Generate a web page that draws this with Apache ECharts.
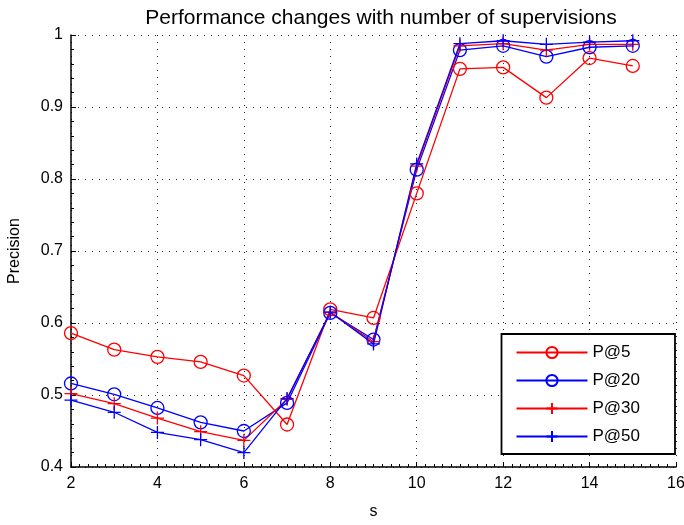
<!DOCTYPE html>
<html>
<head>
<meta charset="utf-8">
<script src="https://cdn.jsdelivr.net/npm/echarts@6/dist/echarts.min.js"></script>
<style>
  html, body { margin: 0; padding: 0; background: #fff; }
  #chart { width: 684px; height: 525px; }
</style>
</head>
<body>
<div id="chart"></div>
<script>
// number of supervisions
const sValues = [2, 3, 4, 5, 6, 7, 8, 9, 10, 11, 12, 13, 14, 15];

// precision at different cut-offs
const p5  = [0.586, 0.563, 0.553, 0.546, 0.527, 0.459, 0.619, 0.607, 0.780, 0.953, 0.955, 0.913, 0.968, 0.957];
const p20 = [0.516, 0.501, 0.482, 0.462, 0.450, 0.489, 0.614, 0.577, 0.813, 0.979, 0.985, 0.970, 0.983, 0.985];
const p30 = [0.502, 0.488, 0.468, 0.449, 0.437, 0.494, 0.615, 0.574, 0.818, 0.985, 0.988, 0.979, 0.987, 0.987];
const p50 = [0.493, 0.476, 0.448, 0.438, 0.420, 0.495, 0.615, 0.571, 0.821, 0.988, 0.992, 0.987, 0.990, 0.992];

const seriesNames = ['P@5', 'P@20', 'P@30', 'P@50'];
const xTicks = [2, 4, 6, 8, 10, 12, 14, 16];
const yTicks = [0.4, 0.5, 0.6, 0.7, 0.8, 0.9, 1];

const RED = '#ff0000';
const BLUE = '#0000ff';
const PLUS = 'path://M0,-10L0,10M-10,0L10,0';
const FONT = '"Liberation Sans", Arial, sans-serif';

function pairs(vals) {
  return vals.map((v, i) => [sValues[i], v]);
}

function makeSeries(name, vals, color, symbol) {
  return {
    name: name,
    type: 'line',
    data: pairs(vals),
    symbol: symbol,
    symbolSize: 13,
    showAllSymbol: true,
    animation: false,
    lineStyle: { color: color, width: 1.3 },
    itemStyle: { color: 'none', borderColor: color, borderWidth: 1.3 },
    emphasis: { disabled: true }
  };
}

const axisCommon = {
  axisLine: { show: true, onZero: false, lineStyle: { color: '#000', width: 1.5 } },
  axisTick: { show: true, inside: true, length: 5, lineStyle: { color: '#000' } },
  splitLine: { show: true, lineStyle: { color: '#222', type: [1, 6], width: 1 } },
  nameTextStyle: { color: '#000', fontSize: 16, fontFamily: FONT }
};

const chart = echarts.init(document.getElementById('chart'), null, { renderer: 'canvas' });
chart.setOption({
  backgroundColor: '#fff',
  animation: false,
  title: {
    text: 'Performance changes with number of supervisions',
    left: 376,
    top: 3,
    textAlign: 'center',
    textStyle: { color: '#000', fontSize: 21, fontWeight: 'normal', fontFamily: FONT }
  },
  grid: { left: 71, right: 8, top: 35, bottom: 58, containLabel: false, outerBoundsMode: 'none' },
  xAxis: Object.assign({}, axisCommon, {
    type: 'value',
    min: xTicks[0],
    max: xTicks[xTicks.length - 1],
    interval: 2,
    minorTick: { show: true, splitNumber: 10, length: 3, lineStyle: { color: '#000' } },
    name: 's',
    nameLocation: 'middle',
    nameGap: 37,
    axisLabel: { color: '#000', fontSize: 16, fontFamily: FONT, margin: 9 }
  }),
  yAxis: Object.assign({}, axisCommon, {
    type: 'value',
    min: yTicks[0],
    max: yTicks[yTicks.length - 1],
    interval: 0.1,
    minorTick: { show: true, splitNumber: 5, length: 3, lineStyle: { color: '#000' } },
    name: 'Precision',
    nameLocation: 'middle',
    nameGap: 48,
    axisLabel: {
      color: '#000', fontSize: 16, fontFamily: FONT, margin: 8,
      formatter: v => (Math.abs(v - 1) < 1e-9 ? '1' : v.toFixed(1))
    }
  }),
  legend: {
    data: seriesNames,
    orient: 'vertical',
    right: 9,
    top: 334,
    padding: [10, 35, 9, 14],
    itemWidth: 71,
    itemHeight: 14,
    itemGap: 11,
    backgroundColor: '#fff',
    borderColor: '#000',
    borderWidth: 1.8,
    borderRadius: 0,
    textStyle: { color: '#000', fontSize: 17, fontFamily: FONT },
    selectedMode: false
  },
  series: [
    makeSeries(seriesNames[0], p5, RED, 'circle'),
    makeSeries(seriesNames[1], p20, BLUE, 'circle'),
    makeSeries(seriesNames[2], p30, RED, PLUS),
    makeSeries(seriesNames[3], p50, BLUE, PLUS)
  ]
});
</script>
</body>
</html>
